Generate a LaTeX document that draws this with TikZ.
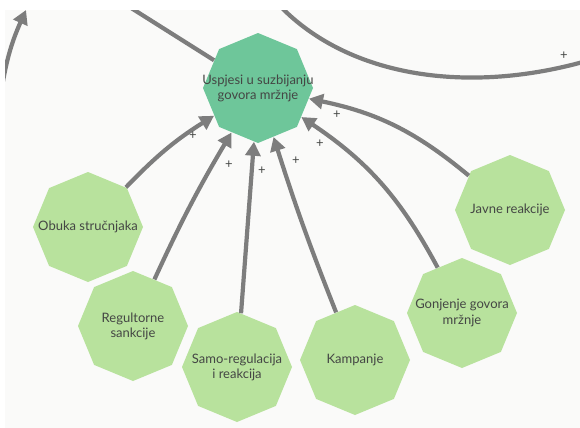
\documentclass[tikz,border=0pt]{standalone}
\usepackage{fontspec}
\setmainfont{Lato}
\usetikzlibrary{shapes.geometric,arrows.meta}
\definecolor{maingreen}{RGB}{110,198,154}
\definecolor{leafgreen}{RGB}{184,226,157}
\definecolor{linegray}{RGB}{125,125,125}
\definecolor{textgray}{RGB}{68,70,68}
\definecolor{bggray}{RGB}{250,250,249}
\begin{document}
\begin{tikzpicture}[x=0.5pt,y=-0.5pt,
    oct/.style={regular polygon,regular polygon sides=8,regular polygon rotate=22.5,
      minimum size=55pt,inner sep=0pt,fill=leafgreen},
    txt/.style={align=center,text=textgray,inner sep=0pt,font=\fontsize{6.5}{7.6}\selectfont},
    plus/.style={text=textgray,inner sep=0pt,font=\fontsize{6.5}{6.5}\selectfont},
    arr/.style={draw=linegray,line width=2.1pt,-{Triangle[length=7pt,width=7.5pt]}},
    link/.style={draw=linegray,line width=2.1pt}]
    \useasboundingbox (0,0) rectangle (580,428);
    \fill[bggray] (5,10) rectangle (580,428);
    \begin{scope}
    \clip (5,10) rectangle (580,428);
    \node[oct,fill=maingreen] (main) at (258,88) {};
    \node[oct] (obuka) at (88,227) {};
    \node[oct] (sankcije) at (133,326) {};
    \node[oct] (samo) at (237,367) {};
    \node[oct] (kampanje) at (355,360) {};
    \node[oct] (gonjenje) at (462,313) {};
    \node[oct] (javne) at (510,210) {};
    \node[txt] (mainT) at (main) {Uspjesi u suzbijanju\\govora mržnje};
    \node[txt] (obukaT) at (obuka) {Obuka stručnjaka};
    \node[txt] (sankcijeT) at (sankcije) {Regultorne\\sankcije};
    \node[txt] (samoT) at (samo) {Samo-regulacija\\i reakcija};
    \node[txt] (kampanjeT) at (kampanje) {Kampanje};
    \node[txt] (gonjenjeT) at (gonjenje) {Gonjenje govora\\mržnje};
    \node[txt] (javneT) at (javne) {Javne reakcije};
    \coordinate (outUp) at (128,6);
    \coordinate (leftLow) at (0,100);
    \coordinate (leftTip) at (26,10);
    \coordinate (topFrom) at (280,6);
    \coordinate (topTo) at (590,60);
    \draw[arr] (obuka) to[bend left=7] (main);
    \draw[arr] (sankcije) to[bend left=3] (main);
    \draw[arr] (samo) -- (main);
    \draw[arr] (kampanje) to[bend left=2] (main);
    \draw[arr] (gonjenje) to[bend right=14] (main);
    \draw[arr] (javne) to[bend right=14] (main);
    \draw[link] (main) -- (outUp);
    \draw[arr] (leftLow) to[bend left=8] (leftTip);
    \draw[link] (topFrom) .. controls (350,78) and (470,95) .. (topTo);
    \node[plus] (p1) at (193,136) {+};
    \node[plus] (p2) at (229,165) {+};
    \node[plus] (p3) at (262,171) {+};
    \node[plus] (p4) at (296,161) {+};
    \node[plus] (p5) at (320,144) {+};
    \node[plus] (p6) at (337,115) {+};
    \node[plus] (p7) at (564,56) {+};
    \end{scope}
\end{tikzpicture}
\end{document}
